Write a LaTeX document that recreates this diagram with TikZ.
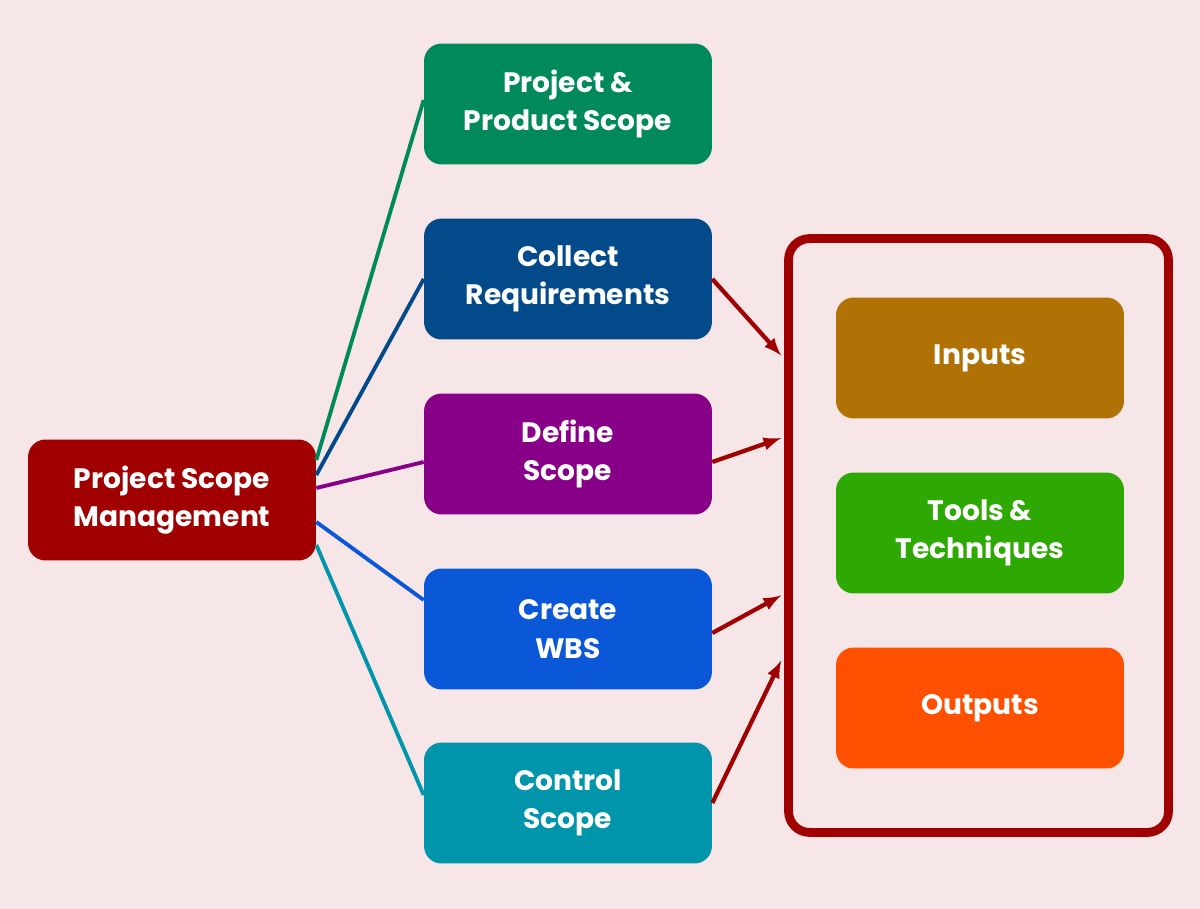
\documentclass[tikz,border=0pt]{standalone}
\usepackage{fontspec}
\setmainfont{Poppins}
\usetikzlibrary{positioning}
\definecolor{bgPink}{HTML}{F7E6E7}
\definecolor{sRed}{HTML}{A00000}
\definecolor{sGreen}{HTML}{008A5C}
\definecolor{sNavy}{HTML}{034A8A}
\definecolor{sPurple}{HTML}{880088}
\definecolor{sBlue}{HTML}{0A57D8}
\definecolor{sTeal}{HTML}{0095AA}
\definecolor{sGold}{HTML}{B07204}
\definecolor{sLime}{HTML}{2EA803}
\definecolor{sOrange}{HTML}{FF5000}
\tikzset{box/.style={rectangle, rounded corners=10pt, text=white, align=center,
  minimum width=5.76cm, minimum height=2.42cm, inner sep=0pt,
  font=\fontsize{16}{22}\selectfont\bfseries}}
\tikzset{ln/.style={draw, line width=2.2pt}}
\tikzset{ar/.style={draw, line width=2.4pt, sRed, -latex}}
\begin{document}
\begin{tikzpicture}[x=0.02cm,y=-0.02cm]
        \fill[bgPink] (0,0) rectangle (1200,909);
        \useasboundingbox (0,0) rectangle (1200,909);
        %% left root
        \node (psm) at (172,500) [box, fill=sRed] {Project Scope\\Management};
        %% middle column
        \node (pps) at (568,104) [box, fill=sGreen] {Project \&\\Product Scope};
        \node (cr) at (568,279) [box, fill=sNavy] {Collect\\Requirements};
        \node (ds) at (568,454) [box, fill=sPurple] {Define\\Scope};
        \node (cw) at (568,629) [box, fill=sBlue] {Create\\WBS};
        \node (cs) at (568,803) [box, fill=sTeal] {Control\\Scope};
        %% right frame
        \node (frame) at (978.5,535.5) [draw=sRed, line width=5pt, rounded corners=12pt,
          minimum width=7.6cm, minimum height=11.88cm] {};
        \node (inp) at (980,358) [box, fill=sGold] {Inputs};
        \node (tt) at (980,533) [box, fill=sLime] {Tools \&\\Techniques};
        \node (out) at (980,708) [box, fill=sOrange] {Outputs};
        %% root links
        \draw [ln, sGreen] ([yshift=0.8cm]psm.east) to ([yshift=0.08cm]pps.west);
        \draw [ln, sNavy] ([yshift=0.5cm]psm.east) to (cr.west);
        \draw [ln, sPurple] ([yshift=0.24cm]psm.east) to ([yshift=-0.16cm]ds.west);
        \draw [ln, sBlue] ([yshift=-0.44cm]psm.east) to ([yshift=0.58cm]cw.west);
        \draw [ln, sTeal] ([yshift=-0.9cm]psm.east) to ([yshift=0.16cm]cs.west);
        %% arrows to frame
        \draw [ar] (cr.east) to ([yshift=3.6cm,xshift=-0.06cm]frame.west);
        \draw [ar] ([yshift=-0.16cm]ds.east) to ([yshift=1.95cm,xshift=-0.06cm]frame.west);
        \draw [ar] ([yshift=-0.08cm]cw.east) to ([yshift=-1.2cm,xshift=-0.06cm]frame.west);
        \draw [ar] ([yshift=-0.0cm]cs.east) to ([yshift=-2.5cm,xshift=-0.06cm]frame.west);
\end{tikzpicture}
\end{document}
